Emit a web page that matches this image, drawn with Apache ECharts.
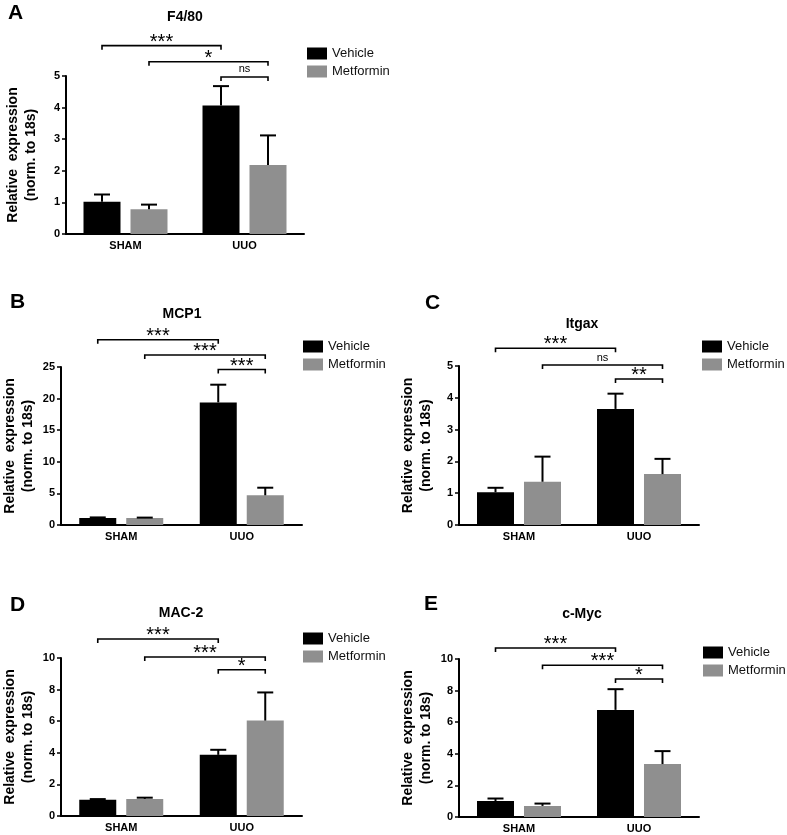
<!DOCTYPE html>
<html>
<head>
<meta charset="utf-8">
<script src="https://cdn.jsdelivr.net/npm/echarts@6/dist/echarts.min.js"></script>
<style>html,body{margin:0;padding:0;background:#fff}#c{width:787px;height:835px}</style>
</head>
<body>
<div id="c"></div>
<script>
// ---------- DATA ----------
const categories = ['SHAM', 'UUO'];
const seriesNames = ['Vehicle', 'Metformin'];

// A: F4/80
const a_vehicle = [1.02, 4.07];
const a_vehicle_sem = [0.23, 0.61];
const a_metformin = [0.78, 2.18];
const a_metformin_sem = [0.15, 0.94];
const a_brackets = [[0, 0, 1, 0, 5.96], [0, 1, 1, 1, 5.45], [1, 0, 1, 1, 4.97]];
const a_bracket_labels = ['***', '*', 'ns'];

// B: MCP1
const b_vehicle = [1.1, 19.4];
const b_vehicle_sem = [0.1, 2.8];
const b_metformin = [1.1, 4.7];
const b_metformin_sem = [0.07, 1.2];
const b_brackets = [[0, 0, 1, 0, 29.3], [0, 1, 1, 1, 26.9], [1, 0, 1, 1, 24.6]];
const b_bracket_labels = ['***', '***', '***'];

// C: Itgax
const c_vehicle = [1.03, 3.65];
const c_vehicle_sem = [0.14, 0.48];
const c_metformin = [1.36, 1.6];
const c_metformin_sem = [0.79, 0.48];
const c_brackets = [[0, 0, 1, 0, 5.56], [0, 1, 1, 1, 5.03], [1, 0, 1, 1, 4.59]];
const c_bracket_labels = ['***', 'ns', '**'];

// D: MAC-2
const d_vehicle = [1.03, 3.87];
const d_vehicle_sem = [0.04, 0.32];
const d_metformin = [1.08, 6.04];
const d_metformin_sem = [0.08, 1.78];
const d_brackets = [[0, 0, 1, 0, 11.2], [0, 1, 1, 1, 10.06], [1, 0, 1, 1, 9.26]];
const d_bracket_labels = ['***', '***', '*'];

// E: c-Myc
const e_vehicle = [1.01, 6.78];
const e_vehicle_sem = [0.16, 1.31];
const e_metformin = [0.70, 3.35];
const e_metformin_sem = [0.15, 0.82];
const e_brackets = [[0, 0, 1, 0, 10.7], [0, 1, 1, 1, 9.6], [1, 0, 1, 1, 8.73]];
const e_bracket_labels = ['***', '***', '*'];

// y-axis ticks
const a_yMax = 5, a_yStep = 1;
const b_yMax = 25, b_yStep = 5;
const c_yMax = 5, c_yStep = 1;
const d_yMax = 10, d_yStep = 2;
const e_yMax = 10, e_yStep = 2;

// ---------- LAYOUT / STYLE ----------
const FONT = '"Liberation Sans", Arial, Helvetica, sans-serif';
const BAR_W = 37, BAR_GAP_PX = 10;
const BAR_OFF = (BAR_W + BAR_GAP_PX) / 2;
const CAP = 16, TICK = 4;
const COLORS = ['#000000', '#8f8f8f'];

const panels = [
  { letter: 'A', title: 'F4/80', v: a_vehicle, vs: a_vehicle_sem, m: a_metformin, ms: a_metformin_sem, br: a_brackets, bl: a_bracket_labels, yMax: a_yMax, yStep: a_yStep,
    grid: { left: 66, top: 76, width: 238, height: 158 }, legend: { left: 307, top: 47 }, titleXY: [185, 17], letterXY: [8, 13], nameGap: 26 },
  { letter: 'B', title: 'MCP1', v: b_vehicle, vs: b_vehicle_sem, m: b_metformin, ms: b_metformin_sem, br: b_brackets, bl: b_bracket_labels, yMax: b_yMax, yStep: b_yStep,
    grid: { left: 61, top: 367, width: 241, height: 158 }, legend: { left: 303, top: 340 }, titleXY: [182, 314], letterXY: [10, 302], nameGap: 24 },
  { letter: 'C', title: 'Itgax', v: c_vehicle, vs: c_vehicle_sem, m: c_metformin, ms: c_metformin_sem, br: c_brackets, bl: c_bracket_labels, yMax: c_yMax, yStep: c_yStep,
    grid: { left: 459, top: 366, width: 240, height: 159 }, legend: { left: 702, top: 340 }, titleXY: [582, 324], letterXY: [425, 303], nameGap: 24 },
  { letter: 'D', title: 'MAC-2', v: d_vehicle, vs: d_vehicle_sem, m: d_metformin, ms: d_metformin_sem, br: d_brackets, bl: d_bracket_labels, yMax: d_yMax, yStep: d_yStep,
    grid: { left: 61, top: 658, width: 241, height: 158 }, legend: { left: 303, top: 632 }, titleXY: [181, 613], letterXY: [10, 605], nameGap: 24 },
  { letter: 'E', title: 'c-Myc', v: e_vehicle, vs: e_vehicle_sem, m: e_metformin, ms: e_metformin_sem, br: e_brackets, bl: e_bracket_labels, yMax: e_yMax, yStep: e_yStep,
    grid: { left: 459, top: 659, width: 240, height: 158 }, legend: { left: 703, top: 646 }, titleXY: [582, 614], letterXY: [424, 604], nameGap: 24 }
];

function sideOff(s) { return s === 0 ? -BAR_OFF : BAR_OFF; }

const grid = [], xAxis = [], yAxis = [], series = [], legend = [], graphic = [];

panels.forEach((p, i) => {
  grid.push(Object.assign({ containLabel: false }, p.grid));
  xAxis.push({
    type: 'category', gridIndex: i, data: categories,
    axisLine: { lineStyle: { color: '#000', width: 2 } },
    axisTick: { alignWithLabel: true, length: 4, lineStyle: { color: '#000', width: 1.5 } },
    axisLabel: { color: '#000', fontWeight: 'bold', fontSize: 11, margin: 6, fontFamily: FONT }
  });
  yAxis.push({
    type: 'value', gridIndex: i, min: 0, max: p.yMax, interval: p.yStep,
    splitLine: { show: false },
    axisLine: { show: true, lineStyle: { color: '#000', width: 2 } },
    axisTick: { show: true, length: 4, lineStyle: { color: '#000', width: 1.5 } },
    axisLabel: { color: '#000', fontWeight: 'bold', fontSize: 11, margin: 6, fontFamily: FONT },
    name: 'Relative  expression\n(norm. to 18s)', nameLocation: 'middle', nameRotate: 90, nameGap: p.nameGap,
    nameTextStyle: { color: '#000', fontWeight: 'bold', fontSize: 14, lineHeight: 18, fontFamily: FONT }
  });
  [p.v, p.m].forEach((vals, k) => {
    series.push({
      type: 'bar', name: seriesNames[k], xAxisIndex: i, yAxisIndex: i, data: vals,
      barWidth: BAR_W, barGap: (BAR_GAP_PX / BAR_W * 100).toFixed(1) + '%',
      itemStyle: { color: COLORS[k] }, emphasis: { disabled: true }, silent: true, z: 2
    });
  });
  // error bars (mean + SEM)
  const errData = [];
  [[p.v, p.vs], [p.m, p.ms]].forEach(([vals, sem], k) => {
    vals.forEach((val, c) => errData.push([c, val, val + sem[c], k]));
  });
  series.push({
    type: 'custom', xAxisIndex: i, yAxisIndex: i, data: errData, silent: true, z: 3,
    encode: { x: 0, y: [1, 2] },
    renderItem: function (params, api) {
      const c = api.value(0), side = api.value(3);
      const pm = api.coord([c, api.value(1)]);
      const pu = api.coord([c, api.value(2)]);
      const x = pm[0] + sideOff(side);
      const st = { stroke: '#000', lineWidth: 2 };
      return { type: 'group', children: [
        { type: 'line', shape: { x1: x, y1: pm[1], x2: x, y2: pu[1] }, style: st },
        { type: 'line', shape: { x1: x - CAP / 2, y1: pu[1], x2: x + CAP / 2, y2: pu[1] }, style: st }
      ] };
    }
  });
  // significance brackets
  const labels = p.bl;
  series.push({
    type: 'custom', xAxisIndex: i, yAxisIndex: i, data: p.br, silent: true, z: 4, clip: false,
    encode: { x: 0, y: 4 },
    renderItem: function (params, api) {
      const from = api.value(0), fs = api.value(1), to = api.value(2), ts = api.value(3), yv = api.value(4);
      const p1 = api.coord([from, yv]);
      const p2 = api.coord([to, yv]);
      const x1 = p1[0] + sideOff(fs), x2 = p2[0] + sideOff(ts), y = p1[1];
      const lab = labels[params.dataIndex];
      const star = lab.indexOf('*') >= 0;
      return { type: 'group', children: [
        { type: 'polyline', shape: { points: [[x1, y + TICK], [x1, y], [x2, y], [x2, y + TICK]] }, style: { stroke: '#000', lineWidth: 1.6, fill: null } },
        { type: 'text', style: star
          ? { text: lab, x: (x1 + x2) / 2, y: y - 3.5, textAlign: 'center', textVerticalAlign: 'middle', font: 'normal 20px ' + FONT, fill: '#000' }
          : { text: lab, x: (x1 + x2) / 2, y: y - 2, textAlign: 'center', textVerticalAlign: 'bottom', font: 'normal 11px ' + FONT, fill: '#000' } }
      ] };
    }
  });
  legend.push({
    data: seriesNames, orient: 'vertical', left: p.legend.left, top: p.legend.top, padding: 0,
    itemWidth: 20, itemHeight: 12, itemGap: 5, icon: 'rect', selectedMode: false,
    textStyle: { fontSize: 13, color: '#111', fontFamily: FONT }
  });
  graphic.push({ type: 'text', x: p.titleXY[0], y: p.titleXY[1], style: { text: p.title, font: 'bold 14px ' + FONT, fill: '#000', textAlign: 'center', textVerticalAlign: 'middle' } });
  graphic.push({ type: 'text', x: p.letterXY[0], y: p.letterXY[1], style: { text: p.letter, font: 'bold 21px ' + FONT, fill: '#000', textAlign: 'left', textVerticalAlign: 'middle' } });
});

const chart = echarts.init(document.getElementById('c'), null, { renderer: 'canvas' });
chart.setOption({
  animation: false,
  backgroundColor: '#fff',
  textStyle: { fontFamily: FONT },
  grid, xAxis, yAxis, series, legend, graphic
});
</script>
</body>
</html>
